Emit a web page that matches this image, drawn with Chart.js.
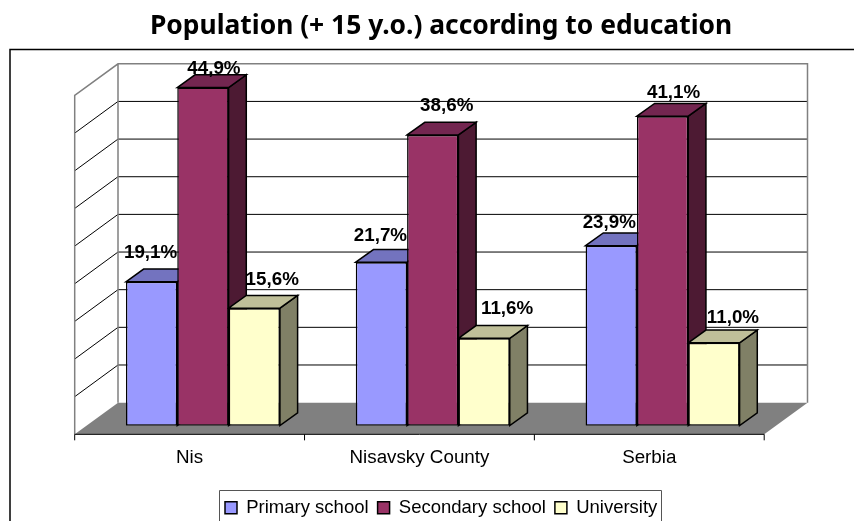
<!DOCTYPE html>
<html>
<head>
<meta charset="utf-8">
<title>Population according to education</title>
<script src="https://cdn.jsdelivr.net/npm/chart.js@4"></script>
<style>
    html, body { margin: 0; padding: 0; background: #fff; }
    canvas { display: block; }
</style>
</head>
<body>
<canvas id="educationChart" width="854" height="521"></canvas>
<script>
const categories = ['Nis', 'Nisavsky County', 'Serbia'];
const primarySchool = [19.1, 21.7, 23.9];
const secondarySchool = [44.9, 38.6, 41.1];
const university = [15.6, 11.6, 11.0];

// shaded faces of each series: top, then side
const faceColors = [
    ['#7373BF', '#4D4D80'],
    ['#732650', '#4D1A33'],
    ['#BFBF99', '#808066'],
];
// the labels do not sit at one fixed spot above the bars, nudged by hand [x, y]
const labelNudge = [
    [[-1, -28.5], [-1, -26], [-2, -23]],
    [[11, -19], [14, -29], [11, -23]],
    [[18, -28], [23, -29], [19, -24.5]],
];

const barDepthX = 17.7;
const barDepthY = 12.7;
const backX = 30;
const backY = -23;
const frontX = -13.3;
const frontY = 8.7;

function line(ctx, x1, y1, x2, y2) {
    ctx.beginPath();
    ctx.moveTo(x1, y1);
    ctx.lineTo(x2, y2);
    ctx.stroke();
}

function face(ctx, points, fill) {
    ctx.beginPath();
    points.forEach((p, i) => i ? ctx.lineTo(p[0], p[1]) : ctx.moveTo(p[0], p[1]));
    ctx.closePath();
    ctx.fillStyle = fill;
    ctx.fill();
    ctx.stroke();
}

const box3d = {
    id: 'box3d',
    afterLayout(chart) {
        // title and legend are not centered on the canvas in the original
        chart.titleBlock.left += 8.3;
        chart.titleBlock.right += 8.3;
        chart.legend.left = 216;
        chart.legend.right = 800;
        chart.legend.top = 489.5;
        chart.legend.bottom = 521;
    },
    beforeDraw(chart) {
        const ctx = chart.ctx;
        ctx.save();
        ctx.strokeStyle = '#000';
        ctx.lineWidth = 1.5;
        ctx.beginPath();
        ctx.moveTo(10, 521);
        ctx.lineTo(10, 49.5);
        ctx.lineTo(854, 49.5);
        ctx.stroke();
        ctx.strokeStyle = '#555';
        ctx.lineWidth = 1;
        ctx.beginPath();
        ctx.moveTo(219.5, 521);
        ctx.lineTo(219.5, 490.5);
        ctx.lineTo(661.5, 490.5);
        ctx.lineTo(661.5, 521);
        ctx.stroke();
        ctx.restore();
    },
    beforeDatasetsDraw(chart) {
        const ctx = chart.ctx;
        const { left, right } = chart.chartArea;
        const y = chart.scales.y;
        const zero = y.getPixelForValue(0);
        const top = y.getPixelForValue(y.max);
        ctx.save();

        // floor
        ctx.fillStyle = '#808080';
        ctx.beginPath();
        ctx.moveTo(left + frontX, zero + frontY);
        ctx.lineTo(right + frontX, zero + frontY);
        ctx.lineTo(right + backX, zero + backY);
        ctx.lineTo(left + backX, zero + backY);
        ctx.closePath();
        ctx.fill();

        // grid on the back and left walls
        ctx.strokeStyle = '#000';
        ctx.lineWidth = 1;
        y.ticks.forEach(t => {
            if (t.value === 0 || t.value === y.max) return;
            const py = y.getPixelForValue(t.value);
            line(ctx, left + backX, py + backY, right + backX, py + backY);
            line(ctx, left + backX, py + backY, left + frontX, py + frontY);
        });

        // wall outlines
        ctx.strokeStyle = '#808080';
        ctx.lineWidth = 1.5;
        ctx.beginPath();
        ctx.moveTo(left + frontX, zero + frontY);
        ctx.lineTo(left + frontX, top + frontY);
        ctx.lineTo(left + backX, top + backY);
        ctx.lineTo(right + backX, top + backY);
        ctx.lineTo(right + backX, zero + backY);
        ctx.moveTo(left + backX, top + backY);
        ctx.lineTo(left + backX, zero + backY);
        ctx.stroke();

        // axis line and ticks along the front of the floor
        ctx.strokeStyle = '#000';
        ctx.lineWidth = 1;
        const axisY = zero + frontY;
        line(ctx, left + frontX, axisY, right + frontX, axisY);
        const step = (right - left) / categories.length;
        for (let i = 0; i <= categories.length; i++) {
            const tx = left + frontX + step * i;
            line(ctx, tx, axisY, tx, axisY + 6);
        }

        // top and side faces, left to right so the later ones overlap
        ctx.lineWidth = 1.5;
        categories.forEach((c, i) => {
            chart.data.datasets.forEach((ds, d) => {
                const bar = chart.getDatasetMeta(d).data[i];
                const l = bar.x - bar.width / 2;
                const r = bar.x + bar.width / 2;
                face(ctx, [[r, bar.y], [r + barDepthX, bar.y - barDepthY], [r + barDepthX, bar.base - barDepthY], [r, bar.base]], faceColors[d][1]);
                face(ctx, [[l, bar.y], [l + barDepthX, bar.y - barDepthY], [r + barDepthX, bar.y - barDepthY], [r, bar.y]], faceColors[d][0]);
            });
        });
        ctx.restore();
    },
    afterDatasetsDraw(chart) {
        const ctx = chart.ctx;
        ctx.save();
        ctx.fillStyle = '#000';
        ctx.font = 'bold 18.8px "Liberation Sans"';
        ctx.textAlign = 'center';
        ctx.textBaseline = 'middle';
        chart.data.datasets.forEach((ds, d) => {
            chart.getDatasetMeta(d).data.forEach((bar, i) => {
                const text = ds.data[i].toFixed(1).replace('.', ',') + '%';
                ctx.fillText(text, bar.x + labelNudge[d][i][0], bar.y + labelNudge[d][i][1]);
            });
        });
        ctx.restore();
    },
};

const ctx = document.getElementById('educationChart').getContext('2d');
const educationChart = new Chart(ctx, {
    type: 'bar',
    data: {
        labels: categories,
        datasets: [
            { label: 'Primary school', data: primarySchool, backgroundColor: '#9999FF' },
            { label: 'Secondary school', data: secondarySchool, backgroundColor: '#993366' },
            { label: 'University', data: university, backgroundColor: '#FFFFCC' },
        ],
    },
    plugins: [box3d],
    options: {
        responsive: false,
        animation: false,
        layout: { padding: { left: 88, right: 76.5, top: 0, bottom: 0 } },
        datasets: {
            bar: {
                categoryPercentage: 0.67,
                barPercentage: 1,
                borderColor: '#000',
                borderWidth: 1.5,
                borderSkipped: false,
            },
        },
        scales: {
            x: {
                grid: { display: false, drawTicks: false },
                border: { display: false },
                afterFit(scale) {
                    scale.height -= 6.7;
                },
                ticks: {
                    color: '#000',
                    font: { family: '"Liberation Sans"', size: 18.8 },
                    padding: 21,
                    labelOffset: -13.3,
                    maxRotation: 0,
                    autoSkip: false,
                },
            },
            y: {
                display: false,
                min: 0,
                max: 45,
                ticks: { stepSize: 5 },
            },
        },
        plugins: {
            title: {
                display: true,
                text: 'Population (+ 15 y.o.) according to education',
                color: '#000',
                font: { family: '"Noto Sans"', size: 26.4, weight: 'bold' },
                padding: { top: 10.5, bottom: 44.6 },
            },
            legend: {
                display: true,
                position: 'bottom',
                align: 'start',
                labels: {
                    boxWidth: 12,
                    boxHeight: 12,
                    padding: 9,
                    color: '#000',
                    font: { family: '"Liberation Sans"', size: 18.5 },
                },
            },
            tooltip: { enabled: false },
        },
    },
});
</script>
</body>
</html>
